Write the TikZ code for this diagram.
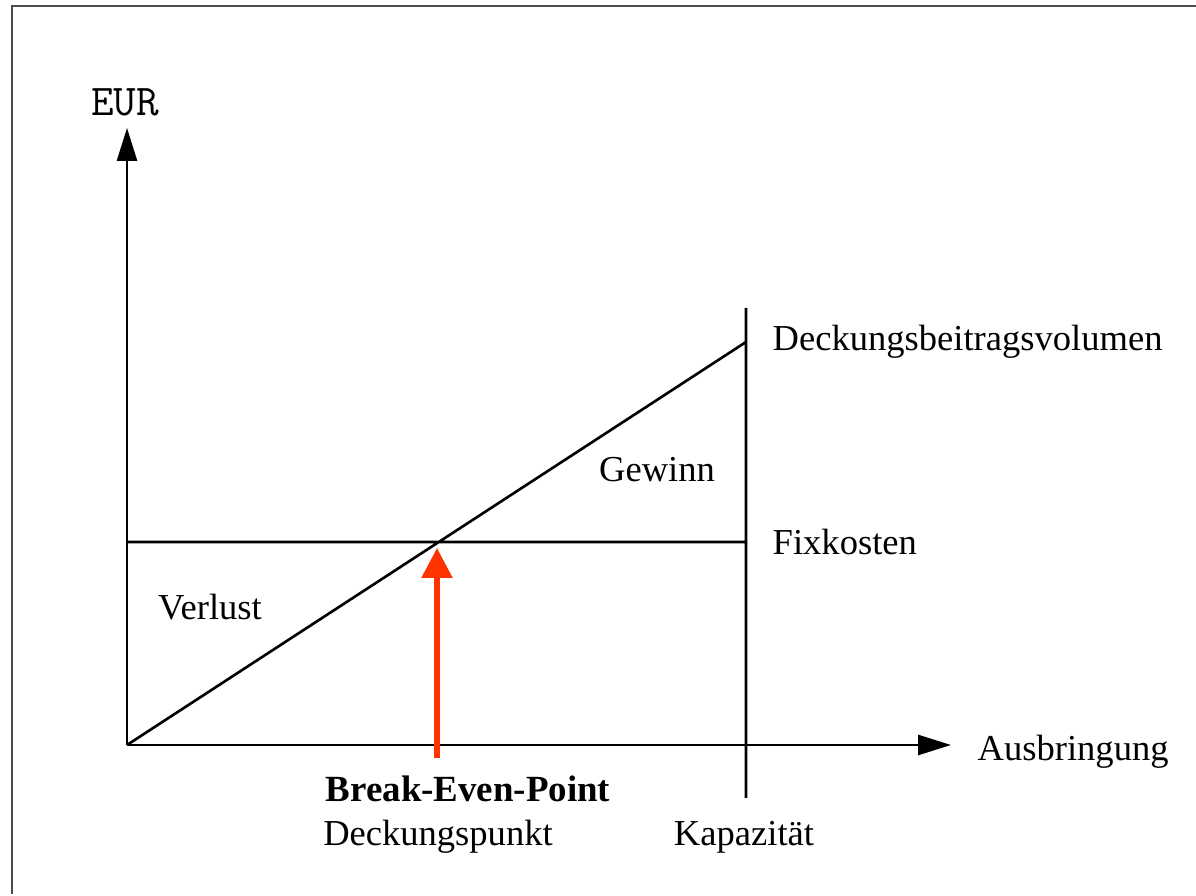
\documentclass[tikz,border=0pt]{standalone}
\usepackage{fontspec}
\setmainfont{Liberation Serif}
\usepackage{xcolor}
\usepackage{tikz}
\usetikzlibrary{arrows.meta,positioning}
\definecolor{beporange}{RGB}{255,51,0}

\begin{document}
\begin{tikzpicture}[scale=1,auto,
    axis line/.style={draw,line width=0.75pt,-{Triangle[length=3.3mm,width=2mm]}},
    plain line/.style={draw,line width=0.75pt},
    label text/.style={inner sep=0pt,font=\fontsize{10.4}{12}\selectfont},
    bep arrow/.style={draw=beporange,line width=1.55pt,-{Triangle[length=3mm,width=3mm]}}]
        \useasboundingbox (0,0) rectangle (11.96,8.96);
        \draw[line width=0.6pt,black!70] (0.12,0.02) -- (0.12,8.90) -- (11.96,8.90);
        \coordinate (O) at (1.27,1.51);
        \coordinate (ytip) at (1.27,7.68);
        \coordinate (xtip) at (9.51,1.51);
        \coordinate (kaptop) at (7.46,5.88);
        \coordinate (kapbot) at (7.46,0.98);
        \coordinate (dbv) at (7.46,5.54);
        \coordinate (fixleft) at (1.27,3.54);
        \coordinate (fixright) at (7.46,3.54);
        \coordinate (bepfoot) at (4.37,1.38);
        \coordinate (beptip) at (4.37,3.48);
        \node[inner sep=0pt,font=\ttfamily\fontsize{12.5}{14}\selectfont] (eur) at (1.25,7.94) {EUR};
        \node[label text,anchor=west] (ausbringung) at (9.77,1.44) {Ausbringung};
        \node[label text,anchor=west,right=0.26cm of dbv] (dbvtext) {Deckungsbeitragsvolumen};
        \node[label text,anchor=west,right=0.26cm of fixright] (fixtext) {Fixkosten};
        \node[label text] (gewinn) at (6.57,4.26) {Gewinn};
        \node[label text] (verlust) at (2.10,2.89) {Verlust};
        \node[label text,anchor=base,font=\bfseries\fontsize{10.5}{12}\selectfont] (bep) at (4.68,0.94) {Break-Even-Point};
        \node[label text,anchor=base] (deckungspunkt) at (4.38,0.50) {Deckungspunkt};
        \node[label text,anchor=base] (kapazitaet) at (7.44,0.50) {Kapazität};
        \path[axis line] (O) -- (ytip);
        \path[axis line] (O) -- (xtip);
        \path[plain line]
          (kapbot) -- (kaptop)
          (O) -- (dbv)
          (fixleft) -- (fixright);
        \path[bep arrow] (bepfoot) -- (beptip);
      \end{tikzpicture}
\end{document}
